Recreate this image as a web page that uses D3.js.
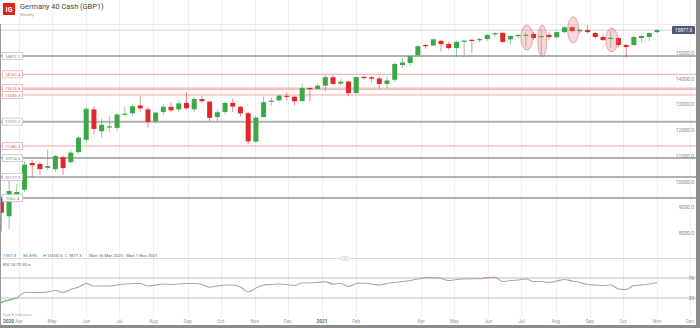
<!DOCTYPE html>
<html><head><meta charset="utf-8">
<script src="https://cdn.jsdelivr.net/npm/d3@7"></script>
<style>
html,body{margin:0;padding:0;background:#fff;}
svg{display:block;font-family:Roboto,"Liberation Sans",Arial,sans-serif;}
</style></head><body><svg id="c" width="700" height="328"></svg>
<script>
const weeks = ["2020-03-16","2020-03-23","2020-03-30","2020-04-06","2020-04-13","2020-04-20","2020-04-27","2020-05-04","2020-05-11","2020-05-18","2020-05-25","2020-06-01","2020-06-08","2020-06-15","2020-06-22","2020-06-29","2020-07-06","2020-07-13","2020-07-20","2020-07-27","2020-08-03","2020-08-10","2020-08-17","2020-08-24","2020-08-31","2020-09-07","2020-09-14","2020-09-21","2020-09-28","2020-10-05","2020-10-12","2020-10-19","2020-10-26","2020-11-02","2020-11-09","2020-11-16","2020-11-23","2020-11-30","2020-12-07","2020-12-14","2020-12-21","2020-12-28","2021-01-04","2021-01-11","2021-01-18","2021-01-25","2021-02-01","2021-02-08","2021-02-15","2021-02-22","2021-03-01","2021-03-08","2021-03-15","2021-03-22","2021-03-29","2021-04-05","2021-04-12","2021-04-19","2021-04-26","2021-05-03","2021-05-10","2021-05-17","2021-05-24","2021-05-31","2021-06-07","2021-06-14","2021-06-21","2021-06-28","2021-07-05","2021-07-12","2021-07-19","2021-07-26","2021-08-02","2021-08-09","2021-08-16","2021-08-23","2021-08-30","2021-09-06","2021-09-13","2021-09-20","2021-09-27","2021-10-04","2021-10-11","2021-10-18","2021-10-25","2021-11-01"];
const opens  = [9330,8650,9480,9680,10720,10680,10530,10480,10940,10750,11140,11620,12800,11950,12100,12080,12600,12650,12950,12800,12330,12700,12900,12800,13050,12800,13200,13100,12500,12700,13050,12900,12650,11550,12500,13100,13150,13330,13290,13120,13630,13590,13720,14050,13800,13880,13430,14060,14050,14000,13790,13950,14520,14600,14900,15300,15280,15460,15340,15180,15440,15500,15490,15530,15720,15770,15520,15650,15680,15730,15630,15690,15600,15800,15990,15860,15880,15765,15610,15560,15570,15300,15300,15570,15610,15800];
const highs  = [9420,10080,9900,10800,10820,10750,11230,11050,11010,11240,11780,12900,12920,12450,12550,12650,12900,13000,13310,12900,12700,13000,13070,13150,13460,13270,13320,13120,12800,13100,13230,12940,12700,12550,13300,13250,13360,13460,13340,13800,13660,13800,14130,14140,14000,13900,14070,14100,14100,14070,14100,14620,14800,14850,15290,15340,15560,15500,15420,15460,15500,15540,15570,15730,15800,15810,15660,15720,15800,15810,15880,15800,15830,16030,16030,15940,16070,15820,15700,15830,15600,15330,15650,15680,15780,15900];
const lows   = [8060,8150,9250,9600,10160,10250,10450,10370,10250,10700,11060,11520,11820,11700,11900,11950,12500,12560,12700,12100,12250,12580,12700,12700,12800,12700,13050,12340,12340,12600,12700,12550,11450,11500,12500,12950,13100,13150,12950,13100,13100,13580,13500,13750,13730,13310,13400,13950,13850,13600,13600,13880,14400,14500,14850,15150,15250,15050,15100,14830,14830,14990,15400,15450,15600,15380,15320,15550,15200,15500,14900,15500,15550,15750,15780,15750,15750,15550,15450,15180,15200,14820,15250,15400,15450,15760];
const closes = [8790,9630,9590,10650,10630,10480,10600,10990,10520,11120,11700,12820,12040,12200,12140,12600,12633,12920,12838,12313,12674,12901,12765,13033,12843,13203,13116,12469,12689,13051,12909,12646,11556,12480,13077,13137,13336,13299,13114,13631,13587,13719,14050,13788,13874,13433,14057,14050,13993,13786,13921,14560,14621,14860,15250,15260,15520,15330,15180,15420,15470,15480,15530,15690,15760,15420,15650,15690,15700,15570,15650,15610,15800,15990,15840,15880,15800,15610,15490,15580,15300,15220,15610,15650,15765,15877];
const rsiValues = [21,26,30.5,41,41,41,42,45,41,47,52,59,54,54,54,56,58,59,59,54,56,58,57,58,59,59,57,51.5,54,56,56,52,42,50,56,57,58,57,55,60,60.5,61,62.5,58,59,53,59,60,58,56,59,61,63,65,68,70,70.5,69,65,67,68,68.5,68.5,70.7,71,63,65,66,68,63,63,61,64,67,64,61,57,56,55,56,48,47,55,56,58,61];

const priceTicks = [8000,9000,10000,11000,12000,13000,14000,15000];
const monthTickDates = ["2020-04-01","2020-05-01","2020-06-01","2020-07-01","2020-08-01","2020-09-01","2020-10-01","2020-11-01","2020-12-01","2021-01-01","2021-02-01","2021-04-01","2021-05-01","2021-06-01","2021-07-01","2021-08-01","2021-09-01","2021-10-01","2021-11-01","2021-12-01"];
const monthTickLabels = ["Apr","May","Jun","Jul","Aug","Sep","Oct","Nov","Dec","2021","Feb","Apr","May","Jun","Jul","Aug","Sep","Oct","Nov","Dec"];
const levelValues = [14872.2,14162.4,13625.8,13578.1,13359.3,12323.5,11380.3,10914.6,10177.9,9362.4];
const levelKinds  = ["major","minor","minor","minor","minor","major","minor","major","major","major"];
const levelShowLabel = [true,true,true,false,true,true,true,true,true,true];
const markDates  = ["2021-07-05","2021-07-19","2021-08-16","2021-09-20"];
const markPrices = [15590,15454,15880,15493];
const statsTexts = ["7357.3","86.89%","H 16032.6","L 7877.3","Mon 16 Mar 2020 - Mon 1 Nov 2021"];
const rsiLevels = [70,30];

const W = 700, H = 328;
const parse = d3.timeParse("%Y-%m-%d");
const svg = d3.select("#c");
const x = d3.scaleTime().domain([parse("2020-04-01"), parse("2021-11-01")]).range([19, 657]);
const y = d3.scaleLinear().domain([8000, 15000]).range([233, 52.7]);
const yr = d3.scaleLinear().domain([0, 100]).range([313, 263]);

const GREEN = "#3aa845", RED = "#e3262b";

// vertical month grid
svg.append("g").selectAll("line").data(monthTickDates).join("line")
  .attr("x1", d => Math.round(x(parse(d))) + 0.5).attr("x2", d => Math.round(x(parse(d))) + 0.5)
  .attr("y1", 0).attr("y2", 318).attr("stroke", "#efefef").attr("stroke-width", 1);

// top header separator
svg.append("line").attr("x1", 0).attr("x2", 697).attr("y1", 24.5).attr("y2", 24.5).attr("stroke", "#ececec");

// Header
svg.append("rect").attr("x", 3).attr("y", 3).attr("width", 12).attr("height", 12).attr("fill", "#e2231a");
svg.append("text").attr("x", 9).attr("y", 11.6).attr("text-anchor", "middle").attr("fill", "#fff")
  .attr("font-size", 7).attr("font-weight", "bold").text("IG");
svg.append("text").attr("x", 20).attr("y", 9.2).attr("fill", "#444").attr("font-size", 7.4).text("Germany 40 Cash (GBP1)");
svg.append("text").attr("x", 20).attr("y", 15.6).attr("fill", "#999").attr("font-size", 4.4).text("Weekly");

// current price line
const last = closes[closes.length - 1];
svg.append("line").attr("x1", 0).attr("x2", 697).attr("y1", y(last)).attr("y2", y(last))
  .attr("stroke", "#cdd0ea").attr("stroke-width", 1);

// level lines
const lv = svg.append("g");
levelValues.forEach((v, i) => {
  const major = levelKinds[i] === "major";
  lv.append("line").attr("x1", 0).attr("x2", 697).attr("y1", y(v)).attr("y2", y(v))
    .attr("stroke", major ? "#b2b2b2" : "#f1a6a6").attr("stroke-width", major ? 2 : 1);
});

// right price axis
const ax = svg.append("g").attr("transform", "translate(694,0)")
  .call(d3.axisRight(y).tickValues(priceTicks).tickSize(0).tickFormat(d => d3.format(".1f")(d)));
ax.select(".domain").remove();
ax.selectAll("text").attr("x", 0).attr("text-anchor", "end").attr("fill", "#8a8a8a")
  .attr("font-size", 5).attr("font-family", "Roboto, Liberation Sans, Arial");

// candles
const candles = svg.append("g");
weeks.forEach((w, i) => {
  const cx = x(parse(w));
  const up = closes[i] >= opens[i];
  const col = up ? GREEN : RED;
  candles.append("line").attr("x1", cx).attr("x2", cx).attr("y1", y(highs[i])).attr("y2", y(lows[i]))
    .attr("stroke", col).attr("stroke-width", 1).attr("opacity", 0.55);
  const top = y(Math.max(opens[i], closes[i])), bot = y(Math.min(opens[i], closes[i]));
  candles.append("rect").attr("x", cx - 2.5).attr("y", top).attr("width", 5).attr("height", Math.max(1.2, bot - top))
    .attr("fill", col);
});

// annotation ellipses
const eR = [[6,12.5],[4.5,16],[5.5,13],[6,12]];
markDates.forEach((d, i) => {
  svg.append("ellipse").attr("cx", x(parse(d)) + 1).attr("cy", y(markPrices[i]))
    .attr("rx", eR[i][0]).attr("ry", eR[i][1])
    .attr("fill", "rgba(225,110,110,0.28)").attr("stroke", "rgba(220,110,110,0.55)").attr("stroke-width", 1);
});

// left level labels
levelValues.forEach((v, i) => {
  if (!levelShowLabel[i]) return;
  const major = levelKinds[i] === "major";
  const g = svg.append("g").attr("transform", `translate(2,${y(v)})`);
  g.append("rect").attr("x", 0.5).attr("y", -3.5).attr("width", 20).attr("height", 7)
    .attr("fill", "#fff").attr("stroke", major ? "#c4c4c4" : "#f2b0b0").attr("stroke-width", 0.8);
  g.append("text").attr("x", 10.5).attr("y", 1.7).attr("text-anchor", "middle").attr("font-size", 4.3)
    .attr("fill", major ? "#888" : "#e06060").text(d3.format(".1f")(v));
});

// current price box
svg.append("rect").attr("x", 672).attr("y", y(last) - 4).attr("width", 23).attr("height", 8).attr("rx", 1.2).attr("fill", "#4c5a78");
svg.append("text").attr("x", 683.5).attr("y", y(last) + 1.8).attr("text-anchor", "middle").attr("fill", "#fff")
  .attr("font-size", 4.8).text(d3.format(".1f")(last));

// stats row
const statsX = [3, 23, 43, 65, 89];
const statsCol = ["#3b7fd0", "#3b7fd0", "#666", "#666", "#666"];
statsTexts.forEach((t, i) => {
  svg.append("text").attr("x", statsX[i]).attr("y", 256.8).attr("font-size", 4.3).attr("fill", statsCol[i]).text(t);
});
svg.append("line").attr("x1", 0).attr("x2", 697).attr("y1", 258.5).attr("y2", 258.5).attr("stroke", "#dadada");
svg.append("rect").attr("x", 341).attr("y", 256.5).attr("width", 8).attr("height", 4).attr("rx", 1).attr("fill", "#fff").attr("stroke", "#ccc").attr("stroke-width", 0.6);
svg.append("line").attr("x1", 343).attr("x2", 347).attr("y1", 258).attr("y2", 258).attr("stroke", "#aaa").attr("stroke-width", 0.5);
svg.append("line").attr("x1", 343).attr("x2", 347).attr("y1", 259).attr("y2", 259).attr("stroke", "#aaa").attr("stroke-width", 0.5);

// RSI pane
svg.append("text").attr("x", 3).attr("y", 266).attr("font-size", 4.3).attr("fill", "#666").text("RSI  14  70  30  ×");
rsiLevels.forEach(l => {
  svg.append("line").attr("x1", 0).attr("x2", 697).attr("y1", yr(l)).attr("y2", yr(l)).attr("stroke", "#a9c0e2").attr("stroke-width", 1);
  svg.append("text").attr("x", 694).attr("y", yr(l) + 1.7).attr("text-anchor", "end").attr("font-size", 4.6).attr("fill", "#888").text(l);
});
const rsiPts = weeks.map((w, i) => [x(parse(w)), yr(rsiValues[i])]);
rsiPts.unshift([0, yr(18)]);
const line = d3.line().curve(d3.curveMonotoneX);
const defs = svg.append("defs");
defs.append("clipPath").attr("id", "above").append("rect").attr("x", 0).attr("y", 0).attr("width", 700).attr("height", yr(70));
defs.append("clipPath").attr("id", "below").append("rect").attr("x", 0).attr("y", yr(30)).attr("width", 700).attr("height", 40);
svg.append("path").attr("d", line(rsiPts)).attr("fill", "none").attr("stroke", "#a8a8a8").attr("stroke-width", 1.1);
svg.append("path").attr("d", line(rsiPts)).attr("fill", "none").attr("stroke", "#f08a8a").attr("stroke-width", 1.3).attr("clip-path", "url(#above)");
svg.append("path").attr("d", line(rsiPts)).attr("fill", "none").attr("stroke", "#6cc46c").attr("stroke-width", 1.3).attr("clip-path", "url(#below)");

// bottom labels
svg.append("text").attr("x", 3).attr("y", 316).attr("font-size", 3.8).attr("fill", "#aaa").text("Data & indicators");
svg.append("text").attr("x", 3).attr("y", 322.5).attr("font-size", 4.8).attr("font-weight", "bold").attr("fill", "#666").text("2020");
monthTickDates.forEach((d, i) => {
  const isYear = /^\d{4}$/.test(monthTickLabels[i]);
  svg.append("text").attr("x", x(parse(d))).attr("y", 322.5).attr("text-anchor", "middle")
    .attr("font-size", 4.8).attr("font-weight", isYear ? "bold" : "normal").attr("fill", isYear ? "#666" : "#999")
    .text(monthTickLabels[i]);
});

// frame
svg.append("line").attr("x1", 0.5).attr("x2", 0.5).attr("y1", 24).attr("y2", 325).attr("stroke", "#9a9a9a");
svg.append("rect").attr("x", 696).attr("y", 0).attr("width", 4).attr("height", 328).attr("fill", "#8c8c8c");
svg.append("rect").attr("x", 0).attr("y", 325).attr("width", 700).attr("height", 3).attr("fill", "#8c8c8c");
</script></body></html>
